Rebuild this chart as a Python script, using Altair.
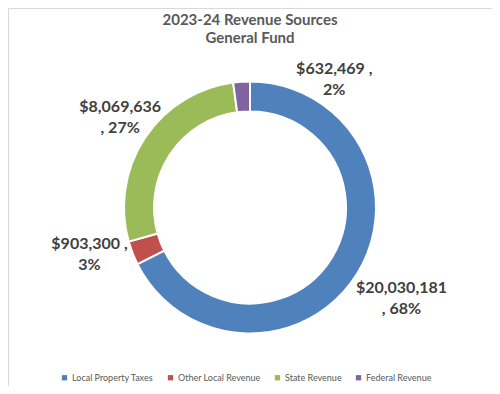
import altair as alt
import pandas as pd

# ---- data ----
categories = ["Local Property Taxes", "Other Local Revenue", "State Revenue", "Federal Revenue"]
values = [20030181, 903300, 8069636, 632469]
colors = ["#4F81BD", "#C0504D", "#9BBB59", "#8064A2"]

# ---- label layout (Excel-style placement) ----
label_radius = [185, 170, 153, 130]
label_dx = [-6, -2, -2, 93]
label_dy = [-17, -25, -16, -9]
break_after_comma = [False, True, False, True]

total = sum(values)
pcts = [round(v / total * 100) for v in values]
labels = []
for v, p, b in zip(values, pcts, break_after_comma):
    money = f"${v:,}"
    labels.append(f"{money} ,\n{p}%" if b else f"{money}\n, {p}%")

df = pd.DataFrame({
    "cat": categories,
    "value": values,
    "idx": list(range(len(categories))),
    "lr": label_radius,
    "label": labels,
})

CX, CY = 242, 199.5
theta_scale = alt.Scale(domain=[0, total])

base = (
    alt.Chart(df)
    .transform_window(end="sum(value)", sort=[alt.SortField("idx", order="ascending")], frame=[None, 0])
    .transform_calculate(start="datum.end - datum.value", mid="datum.end - datum.value / 2")
    .encode(x=alt.value(CX), y=alt.value(CY))
)

arc = base.mark_arc(innerRadius=96, outerRadius=126, stroke="white", strokeWidth=2).encode(
    theta=alt.Theta("start:Q", scale=theta_scale),
    theta2="end:Q",
    color=alt.Color(
        "cat:N",
        scale=alt.Scale(domain=categories, range=colors),
        sort=categories,
        legend=alt.Legend(
            title=None,
            orient="none",
            direction="horizontal",
            legendX=52,
            legendY=365,
            symbolType="square",
            symbolSize=28,
            symbolStrokeWidth=0,
            labelFont="Lato",
            labelFontSize=9,
            labelOffset=3,
            labelColor="#595959",
            columnPadding=12,
        ),
    ),
)

txt_props = dict(font="Lato", fontSize=16, fontWeight="bold", color="#404040",
                 lineBreak="\n", lineHeight=21, align="center", baseline="middle")

text_layers = []
for i in range(len(categories)):
    text_layers.append(
        base.transform_filter(f"datum.idx == {i}")
        .mark_text(dx=label_dx[i], dy=label_dy[i], **txt_props)
        .encode(
            theta=alt.Theta("mid:Q", scale=theta_scale),
            text="label:N",
            radius=alt.Radius("lr:Q", scale=None),
        )
    )

chart = (
    alt.layer(arc, *text_layers)
    .properties(
        width=484,
        height=378,
        autosize=alt.AutoSizeParams(type="none"),
        padding=0,
        title=alt.Title(
            ["2023-24 Revenue Sources", "General Fund"],
            font="Lato", fontSize=15, fontWeight="bold", color="#595959",
            anchor="middle", baseline="top", offset=0, dy=38, lineHeight=18,
        ),
    )
    .configure_view(stroke="#d9d9d9")
)

chart.save("out.html", embed_options={"renderer": "svg", "actions": False})
